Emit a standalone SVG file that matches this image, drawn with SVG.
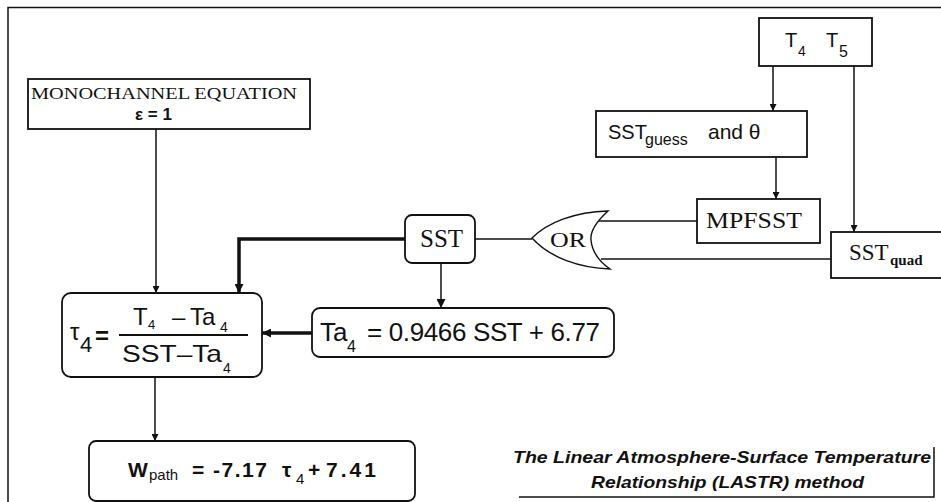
<svg xmlns="http://www.w3.org/2000/svg" width="941" height="502" viewBox="0 0 941 502">
<style>
.box{fill:#fff;stroke:#111;stroke-width:1.8}
.ln{fill:none;stroke:#111;stroke-width:1.5}
.thk{fill:none;stroke:#111;stroke-width:3.5}
.sans{font-family:"Liberation Sans",Arial,sans-serif;fill:#111}
.serif{font-family:"Liberation Serif","Times New Roman",serif;fill:#111}
</style>
<defs>
<marker id="ah" viewBox="0 0 10 10" refX="10" refY="5" markerWidth="7" markerHeight="7" markerUnits="userSpaceOnUse" orient="auto">
<path d="M0,0 L10,5 L0,10 z" fill="#111"/>
</marker>
<marker id="ahk" viewBox="0 0 10 10" refX="10" refY="5" markerWidth="9" markerHeight="9" markerUnits="userSpaceOnUse" orient="auto">
<path d="M0,0 L10,5 L0,10 z" fill="#111"/>
</marker>
</defs>
<rect width="941" height="502" fill="#fff"/>
<g id="frame">
<path d="M8,502 V7.5 H941" class="ln" stroke-width="2"/>
</g>
<g id="connectors">
<line x1="773" y1="66" x2="773" y2="111" class="ln" marker-end="url(#ah)"/>
<line x1="854" y1="66" x2="854" y2="232" class="ln" marker-end="url(#ah)"/>
<line x1="776" y1="157" x2="776" y2="199" class="ln" marker-end="url(#ah)"/>
<line x1="697" y1="221" x2="598" y2="221" class="ln"/>
<line x1="831" y1="259" x2="601" y2="259" class="ln" stroke-width="3"/>
<line x1="532" y1="239" x2="475" y2="239" class="ln" stroke-width="1.2"/>
<polyline points="405,239 239,239 239,293" class="thk" marker-end="url(#ahk)"/>
<line x1="441" y1="263" x2="441" y2="308" class="ln" stroke-width="3" marker-end="url(#ahk)"/>
<line x1="312" y1="333" x2="262" y2="333" class="thk" stroke-width="4" marker-end="url(#ahk)"/>
<line x1="156" y1="129" x2="156" y2="293" class="ln" marker-end="url(#ah)"/>
<line x1="155" y1="377" x2="155" y2="441" class="ln" marker-end="url(#ah)"/>
</g>
<g id="n-t4t5">
<rect x="759" y="18" width="113" height="48" class="box"/>
<text class="sans" font-size="20" x="785" y="47">T</text>
<text class="sans" font-size="14" x="798" y="56">4</text>
<text class="sans" font-size="20" x="826" y="47">T</text>
<text class="sans" font-size="16" x="839" y="57">5</text>
</g>
<g id="n-monochannel">
<rect x="28" y="79" width="282" height="50" class="box"/>
<text class="serif" font-size="17" x="31" y="99" textLength="266" lengthAdjust="spacingAndGlyphs">MONOCHANNEL EQUATION</text>
<text class="sans" font-size="17" font-weight="bold" x="135" y="120">ε = 1</text>
</g>
<g id="n-sstguess">
<rect x="596" y="111" width="211" height="46" class="box"/>
<text class="sans" font-size="20" x="608" y="139">SST</text>
<text class="sans" font-size="16" x="645" y="145">guess</text>
<text class="sans" font-size="21" x="708" y="139">and θ</text>
</g>
<g id="n-mpfsst">
<rect x="697" y="199" width="123" height="44" class="box"/>
<text class="serif" font-size="23" x="706" y="228" textLength="96" lengthAdjust="spacingAndGlyphs">MPFSST</text>
</g>
<g id="n-sstquad">
<rect x="831" y="232" width="115" height="46" class="box"/>
<text class="serif" font-size="23" x="849" y="260">SST</text>
<text class="serif" font-size="15" font-weight="bold" x="890" y="265">quad</text>
</g>
<g id="n-or">
<path d="M608,211 C596,222 590,232 591,240 C592,252 600,262 610,269 C580,268 550,258 532,238 C548,222 575,212 608,211 Z" fill="#fff" stroke="#111" stroke-width="1.4"/>
<text class="serif" font-size="22" x="550" y="247" textLength="36" lengthAdjust="spacingAndGlyphs">OR</text>
</g>
<g id="n-sst">
<rect x="405" y="215" width="70" height="48" rx="7" class="box"/>
<text class="serif" font-size="25" x="420" y="247">SST</text>
</g>
<g id="n-tau">
<rect x="62" y="293" width="200" height="84" rx="9" class="box" stroke-width="2"/>
<text class="sans" font-size="24" x="70" y="340">τ</text>
<text class="sans" font-size="22" x="80" y="352">4</text>
<text class="sans" font-size="24" font-weight="bold" x="95" y="344">=</text>
<text class="sans" font-size="24" x="133" y="325">T</text>
<text class="sans" font-size="13" x="148" y="329">4</text>
<text class="sans" font-size="24" x="172" y="325">–</text>
<text class="sans" font-size="24" x="190" y="325">Ta</text>
<text class="sans" font-size="14" x="220" y="332">4</text>
<line x1="119" y1="335" x2="248" y2="335" stroke="#111" stroke-width="2"/>
<text class="sans" font-size="24" x="122" y="362" textLength="100" lengthAdjust="spacingAndGlyphs">SST–Ta</text>
<text class="sans" font-size="14" x="223" y="373">4</text>
</g>
<g id="n-ta4">
<rect x="312" y="308" width="302" height="49" rx="8" class="box" stroke-width="1.6"/>
<text class="sans" font-size="26" x="320" y="341">Ta</text>
<text class="sans" font-size="16" x="347" y="352">4</text>
<text class="sans" font-size="26" x="367" y="341" textLength="233">= 0.9466 SST + 6.77</text>
</g>
<g id="n-wpath">
<rect x="89" y="441" width="326" height="60" rx="7" class="box" stroke-width="3"/>
<text class="sans" font-size="21" font-weight="bold" x="128" y="477">W</text>
<text class="sans" font-size="15" x="149" y="480">path</text>
<text class="sans" font-size="21" font-weight="bold" x="192" y="477">=</text>
<text class="sans" font-size="21" font-weight="bold" x="213" y="477" textLength="54">-7.17</text>
<text class="sans" font-size="21" font-weight="bold" x="282" y="477">τ</text>
<text class="sans" font-size="15" x="296" y="484">4</text>
<text class="sans" font-size="21" font-weight="bold" x="308" y="477">+</text>
<text class="sans" font-size="21" font-weight="bold" x="326" y="477" textLength="50">7.41</text>
</g>
<g id="n-lastr">
<path d="M519,497 H934 V447" class="ln" stroke-width="1.5"/>
<text class="sans" font-size="17" font-weight="bold" font-style="italic" x="513" y="463" textLength="418" lengthAdjust="spacingAndGlyphs">The Linear Atmosphere-Surface Temperature</text>
<text class="sans" font-size="17" font-weight="bold" font-style="italic" x="591" y="488" textLength="273" lengthAdjust="spacingAndGlyphs">Relationship (LASTR) method</text>
</g>
</svg>
